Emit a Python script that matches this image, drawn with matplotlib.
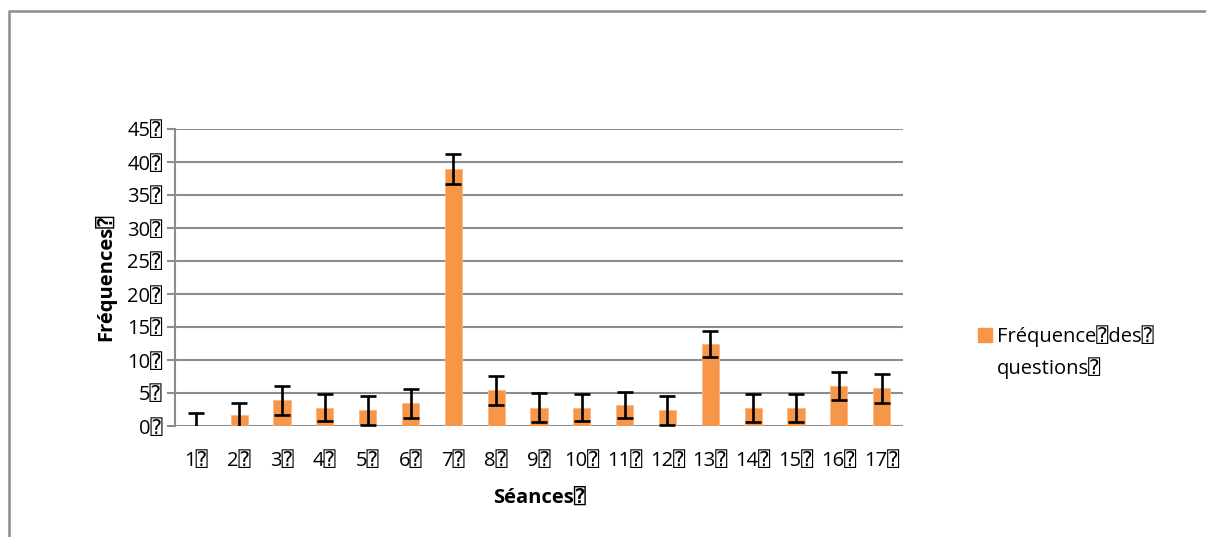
import matplotlib
matplotlib.use('Agg')
import matplotlib.pyplot as plt
import numpy as np
from matplotlib.lines import Line2D
from matplotlib.patches import Rectangle

# Data
seances = [str(i) for i in range(1, 18)]
frequences = [0, 1.6, 3.9, 2.75, 2.35, 3.45, 38.9, 5.4, 2.75, 2.75, 3.15, 2.4, 12.4, 2.75, 2.75, 6.1, 5.7]
erreurs = [2.0, 1.9, 2.2, 2.05, 2.2, 2.2, 2.25, 2.25, 2.2, 2.05, 2.0, 2.2, 2.0, 2.07, 2.1, 2.1, 2.2]
y_ticks = list(range(0, 50, 5))

BOX = '\u2370'
ORANGE = '#F79646'
GREY = '#8c8c8c'
FS = 14.5

plt.rcParams['font.family'] = ['Open Sans', 'DejaVu Sans', 'DejaVu Sans Mono']

W, H = 1206, 537
fig = plt.figure(figsize=(W / 100, H / 100), dpi=100)
ax = fig.add_axes([175 / W, 1 - 426 / H, (903 - 175) / W, (426 - 129) / H])

x = np.arange(1, len(seances) + 1)
ax.bar(x, frequences, width=0.4, color=ORANGE, edgecolor='#FAB888', linewidth=0.6, zorder=2)
ax.errorbar(x, frequences, yerr=erreurs, fmt='none', ecolor='black',
            elinewidth=1.9, capsize=5.5, capthick=1.9, zorder=3)

ax.set_xlim(0.5, len(seances) + 0.5)
ax.set_ylim(0, 45)
ax.set_yticks(y_ticks)
ax.set_yticklabels([f"{v}{BOX}" for v in y_ticks], fontsize=FS)
ax.set_xticks(x)
ax.set_xticklabels([f"{s}{BOX}" for s in seances], fontsize=FS)
ax.tick_params(axis='x', length=0, pad=18)
ax.tick_params(axis='y', length=6, width=1.5, color=GREY, pad=3)

ax.grid(axis='y', color=GREY, linewidth=1.5)
ax.set_axisbelow(True)
for side in ['top', 'right', 'bottom']:
    ax.spines[side].set_visible(False)
ax.spines['left'].set_color(GREY)
ax.spines['left'].set_linewidth(1.5)

ax.set_xlabel(f"Séances{BOX}", fontsize=FS, fontweight='bold', labelpad=12)
ax.set_ylabel(f"Fréquences{BOX}", fontsize=FS, fontweight='bold', labelpad=8)

# legend drawn by hand so the square sits next to the first line
fig.patches.append(Rectangle((978 / W, 1 - 342 / H), 14 / W, 14 / H,
                             transform=fig.transFigure, color=ORANGE))
fig.text(997 / W, 1 - 336 / H, f"Fréquence{BOX}des{BOX}", fontsize=FS, va='center')
fig.text(997 / W, 1 - 368 / H, f"questions{BOX}", fontsize=FS, va='center')

# outer chart border
fig.lines.append(Line2D([9 / W, 9 / W, 1.0], [0.0, 1 - 11 / H, 1 - 11 / H],
                        transform=fig.transFigure, color=GREY, linewidth=1.8))

fig.savefig('out.png', dpi=100)
